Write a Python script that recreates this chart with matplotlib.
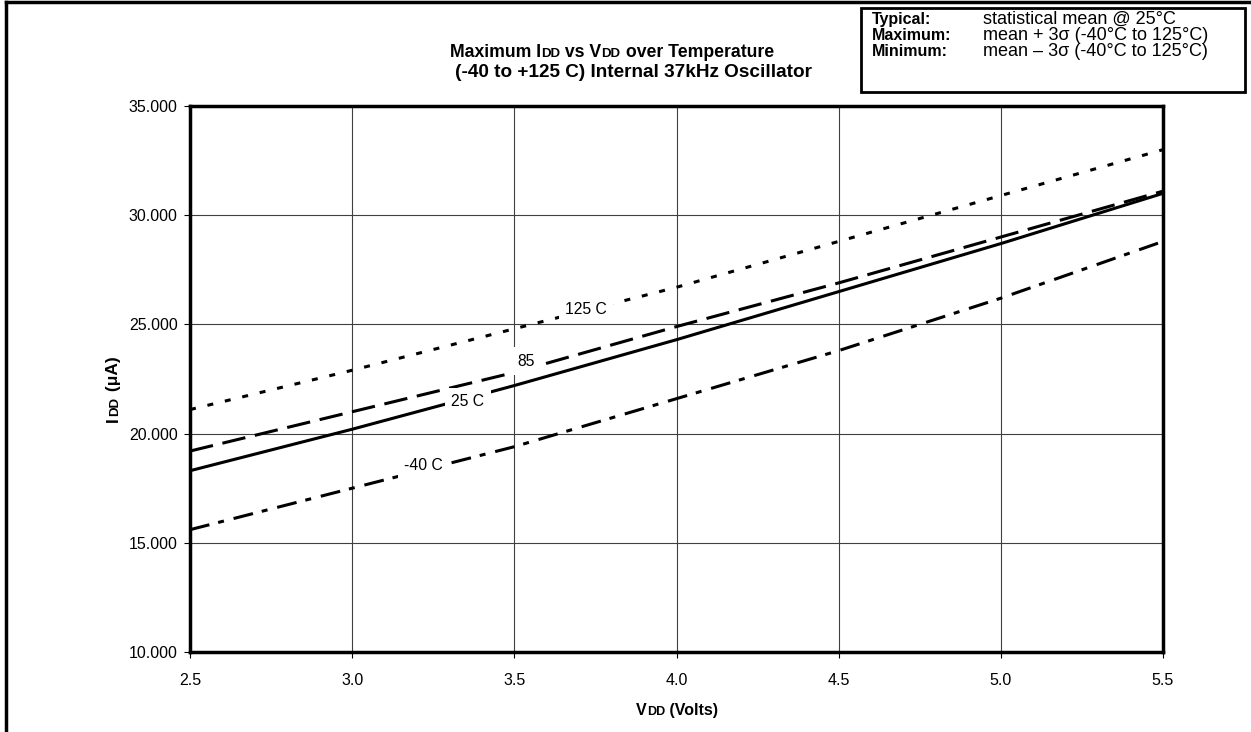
import matplotlib
matplotlib.use("Agg")
import matplotlib.pyplot as plt
from matplotlib.lines import Line2D
from matplotlib.patches import Rectangle

plt.rcParams['font.family'] = ['Liberation Sans', 'DejaVu Sans']
plt.rcParams['lines.scale_dashes'] = False

vdd = [2.5, 3.0, 3.5, 4.0, 4.5, 5.0, 5.5]
idd_125 = [21.1, 22.9, 24.8, 26.7, 28.8, 30.9, 33.0]
idd_85 = [19.2, 21.0, 22.8, 24.9, 26.9, 29.0, 31.1]
idd_25 = [18.3, 20.2, 22.2, 24.3, 26.5, 28.7, 31.0]
idd_m40 = [15.6, 17.5, 19.4, 21.6, 23.8, 26.2, 28.8]

series_labels = ["125 C", "85", "25 C", "-40 C"]
label_pos = [(3.72, 25.7), (3.537, 23.32), (3.357, 21.45), (3.22, 18.52)]

x_ticks = [2.5, 3.0, 3.5, 4.0, 4.5, 5.0, 5.5]
y_ticks = [10, 15, 20, 25, 30, 35]

W, H = 1251, 732
fig = plt.figure(figsize=(W / 100, H / 100), dpi=100)
ax = fig.add_axes([190 / W, 1 - 652 / H, (1163 - 190) / W, (652 - 106) / H])

lw = 2.2
ax.plot(vdd, idd_125, color='black', lw=lw, dashes=(4.3, 8.6), zorder=3)
ax.plot(vdd, idd_85, color='black', lw=lw, dashes=(17, 7), zorder=3)
ax.plot(vdd, idd_25, color='black', lw=lw, zorder=3)
ax.plot(vdd, idd_m40, color='black', lw=lw, dashes=(14.4, 6.5, 4.3, 7.2), zorder=3)

for lab, (lx, ly) in zip(series_labels, label_pos):
    ax.text(lx, ly, lab, ha='center', va='center', fontsize=11.3, zorder=4,
            bbox=dict(facecolor='white', edgecolor='none', pad=4.5))

ax.set_xlim(2.5, 5.5)
ax.set_ylim(10, 35)
ax.set_xticks(x_ticks)
ax.set_xticklabels([f"{v:.1f}" for v in x_ticks])
ax.set_yticks(y_ticks)
ax.set_yticklabels([f"{v:.3f}" for v in y_ticks])
ax.grid(True, color='#404040', lw=0.8)
ax.set_axisbelow(True)
for s in ax.spines.values():
    s.set_linewidth(2.5)
ax.tick_params(axis='both', direction='out', length=4, width=0.8,
               labelsize=11.5)
ax.tick_params(axis='x', pad=11)
ax.tick_params(axis='y', pad=5)

fig.canvas.draw()
renderer = fig.canvas.get_renderer()


def seq_text(x, y, pieces, ha='center', rotation=0, weight='bold', gap=0.0):
    """Place pieces [(text, size)] one after another around pixel (x, y)."""
    objs = []
    for t, sz in pieces:
        o = fig.text(0, 0, t, fontsize=sz, fontweight=weight, rotation=rotation,
                     va='baseline', ha='left', rotation_mode='anchor')
        objs.append(o)
    exts = [o.get_window_extent(renderer) for o in objs]
    if rotation == 0:
        total = sum(e.width for e in exts) + gap * (len(objs) - 1)
        cx = x - total / 2 if ha == 'center' else x
        for o, e in zip(objs, exts):
            o.set_position((cx / W, y / H))
            cx += e.width + gap
    else:
        total = sum(e.height for e in exts) + gap * (len(objs) - 1)
        cy = y - total / 2
        for o, e in zip(objs, exts):
            o.set_position((x / W, cy / H))
            cy += e.height + gap
    return objs


# Title
seq_text(612, H - 57, [("Maximum I", 12.7), ("DD", 9.5), (" vs V", 12.7), ("DD", 9.5),
                       (" over Temperature", 12.7)])
seq_text(633.5, H - 77, [("(-40 to +125 C) Internal 37kHz Oscillator", 13.7)])

# Axis labels
seq_text(677, H - 715, [("V", 11.5), ("DD", 9), (" (Volts)", 11.5)])
seq_text(118, 732 - 389, [("I", 12.5), ("DD", 9.5), (" (\u03bcA)", 12.5)],
         rotation=90, gap=1)

# Legend box
fig.add_artist(Rectangle((861 / W, 1 - 92 / H), (1245 - 861) / W, (92 - 8) / H,
                         transform=fig.transFigure, facecolor='white',
                         edgecolor='black', lw=2.0))
rows = [("Typical:", "statistical mean @ 25\u00b0C"),
        ("Maximum:", "mean + 3\u03c3 (-40\u00b0C to 125\u00b0C)"),
        ("Minimum:", "mean \u2013 3\u03c3 (-40\u00b0C to 125\u00b0C)")]
for i, (a, b) in enumerate(rows):
    yb = 1 - (24 + i * 16) / H
    fig.text(872 / W, yb, a, fontsize=11.5, fontweight='bold', va='baseline')
    fig.text(983 / W, yb, b, fontsize=13, va='baseline')

# Figure border (top and left)
fig.add_artist(Line2D([6 / W, 1], [1 - 2 / H, 1 - 2 / H], color='black', lw=2.5,
                      transform=fig.transFigure))
fig.add_artist(Line2D([6 / W, 6 / W], [0, 1 - 2 / H], color='black', lw=2.5,
                      transform=fig.transFigure))

fig.savefig("out.png", dpi=100)
